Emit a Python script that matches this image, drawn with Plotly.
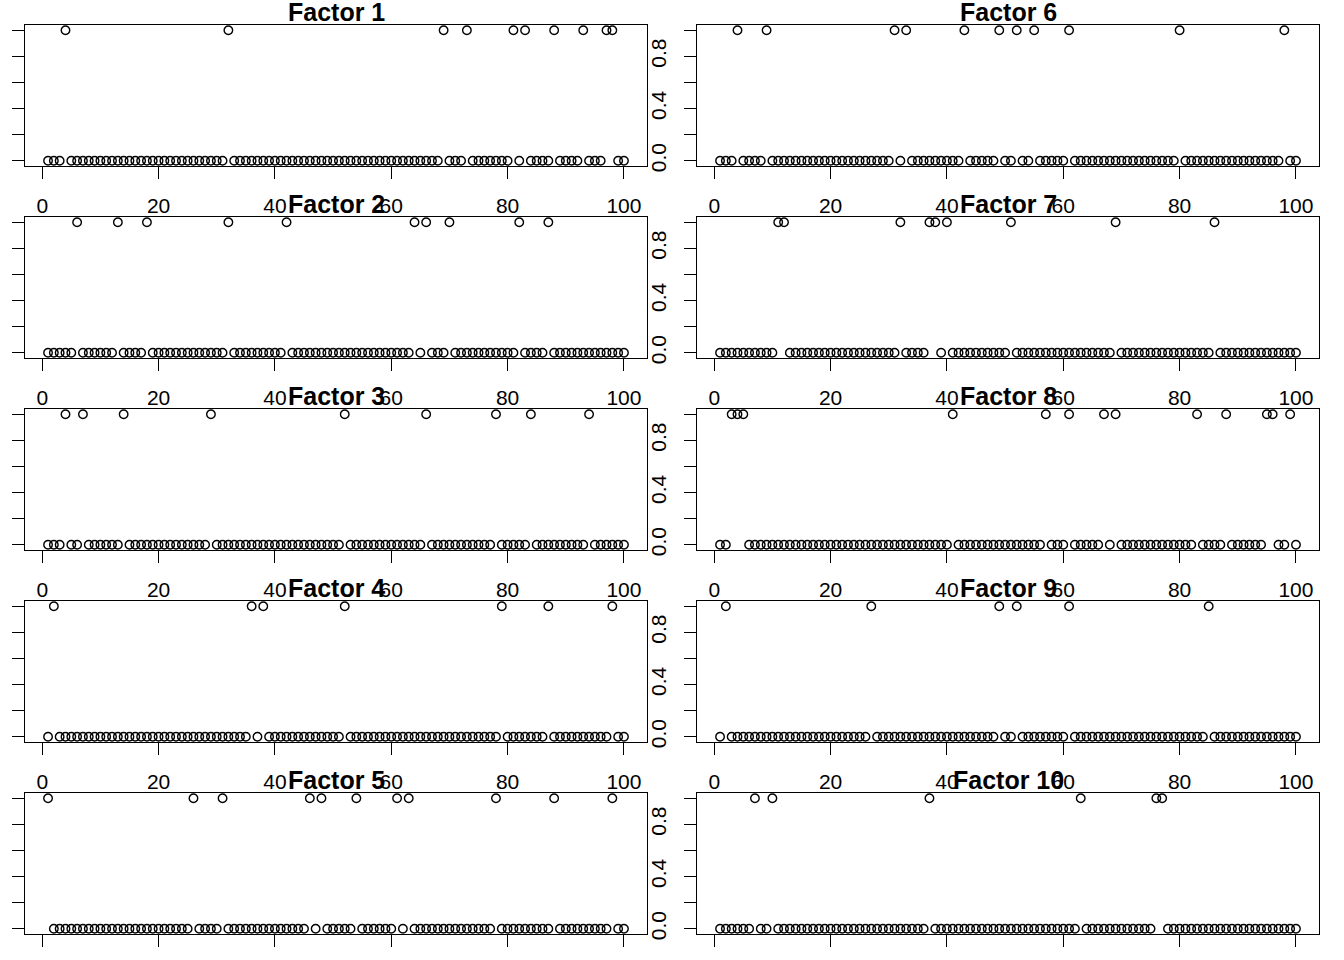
import plotly.graph_objects as go

W, H = 1344, 960

titles = ["Factor 1", "Factor 2", "Factor 3", "Factor 4", "Factor 5",
          "Factor 6", "Factor 7", "Factor 8", "Factor 9", "Factor 10"]

index = list(range(1, 101))

# observation indices whose value is 1 (all others are 0)
ones_f1 = [4, 32, 69, 73, 81, 83, 88, 93, 97, 98]
ones_f2 = [6, 13, 18, 32, 42, 64, 66, 70, 82, 87]
ones_f3 = [4, 7, 14, 29, 52, 66, 78, 84, 94]
ones_f4 = [2, 36, 38, 52, 79, 87, 98]
ones_f5 = [1, 26, 31, 46, 48, 54, 61, 63, 78, 88, 98]
ones_f6 = [4, 9, 31, 33, 43, 49, 52, 55, 61, 80, 98]
ones_f7 = [11, 12, 32, 37, 38, 40, 51, 69, 86]
ones_f8 = [3, 4, 5, 41, 57, 61, 67, 69, 83, 88, 95, 96, 99]
ones_f9 = [2, 27, 49, 52, 61, 85]
ones_f10 = [7, 10, 37, 63, 76, 77]

ones_all = [ones_f1, ones_f2, ones_f3, ones_f4, ones_f5,
            ones_f6, ones_f7, ones_f8, ones_f9, ones_f10]

x_ticks = [0, 20, 40, 60, 80, 100]
y_ticks = [0, 0.2, 0.4, 0.6, 0.8, 1.0]
y_ticktext = ["0.0", "", "0.4", "", "0.8", ""]

FONT = "Liberation Sans, Arial, sans-serif"
fig = go.Figure()
layout = dict(width=W, height=H, margin=dict(l=0, r=0, t=0, b=0),
              paper_bgcolor="white", plot_bgcolor="white",
              template="none", showlegend=False,
              font=dict(family=FONT, color="black"))
annotations = []

for k in range(10):
    col, row = k // 5, k % 5
    left = 25 if col == 0 else 697
    right = left + 622
    top = 25 + 192 * row
    bottom = top + 141
    sfx = "" if k == 0 else str(k + 1)
    yvals = [1 if i in ones_all[k] else 0 for i in index]
    fig.add_trace(go.Scatter(
        x=index, y=yvals, mode="markers",
        xaxis="x" + sfx, yaxis="y" + sfx,
        marker=dict(symbol="circle-open", size=8.5, color="black",
                    line=dict(width=1.4, color="black")),
        showlegend=False))
    common = dict(showline=True, linecolor="black", linewidth=1.4, mirror=True,
                  ticks="outside", ticklen=12, tickwidth=1.4, tickcolor="black",
                  showgrid=False, zeroline=False,
                  tickfont=dict(family=FONT, size=21, color="black"))
    layout["xaxis" + sfx] = dict(domain=[left / W, right / W], anchor="y" + sfx,
                                 range=[-2.96, 103.96], tickmode="array",
                                 tickvals=x_ticks, ticktext=[str(v) for v in x_ticks],
                                 ticklabelstandoff=9, **common)
    layout["yaxis" + sfx] = dict(domain=[1 - bottom / H, 1 - top / H], anchor="x" + sfx,
                                 range=[-0.04, 1.04], tickmode="array",
                                 tickvals=y_ticks, ticktext=y_ticktext,
                                 tickangle=-90, ticklabelstandoff=9, **common)
    annotations.append(dict(text=titles[k], x=(left + right) / 2 / W, y=1 - top / H,
                            xref="paper", yref="paper", xanchor="center", yanchor="bottom",
                            yshift=-3, showarrow=False,
                            font=dict(family=FONT, size=25, color="black", weight="bold")))

layout["annotations"] = annotations
fig.update_layout(**layout)
fig.write_html("out.html")
